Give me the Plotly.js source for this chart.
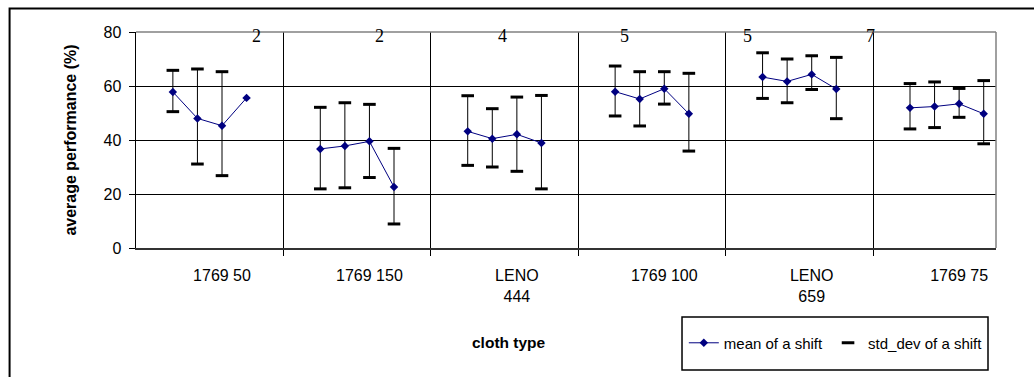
<!DOCTYPE html>
<html>
<head>
<meta charset="utf-8">
<script src="https://cdn.plot.ly/plotly-3.0.1.min.js"></script>
<style>html,body{margin:0;padding:0;background:#fff;}#chart{width:1034px;height:377px;}</style>
</head>
<body>
<div id="chart"></div>
<script>
// ---- data ----
const tickLabels = ['1769 50', '1769 150', 'LENO<br>444', '1769 100', 'LENO<br>659', '1769 75'];
const shiftsPerCloth = 4;
const meanVals = [57.8, 48.0, 45.3, 55.6,
                  36.7, 37.8, 39.5, 22.6,
                  43.2, 40.5, 42.1, 38.9,
                  57.9, 55.2, 59.0, 49.7,
                  63.3, 61.7, 64.3, 58.9,
                  51.9, 52.4, 53.4, 49.7];
const stdHigh = [65.8, 66.3, 65.3, null,
                 52.1, 53.8, 53.2, 36.9,
                 56.4, 51.6, 55.9, 56.5,
                 67.4, 65.3, 65.3, 64.7,
                 72.3, 70.0, 71.2, 70.6,
                 60.9, 61.5, 59.1, 62.0];
const stdLow = [50.5, 31.1, 26.8, null,
                21.9, 22.3, 26.1, 8.9,
                30.6, 30.0, 28.4, 21.9,
                48.9, 45.2, 53.3, 35.9,
                55.4, 53.8, 58.7, 47.9,
                44.1, 44.6, 48.4, 38.6];
const topLabels = ['2', '2', '4', '5', '5', '7'];
const yTicks = [0, 20, 40, 60, 80];

// ---- build traces ----
const slotsPerGroup = 6;
const xs = [], ys = [], eUp = [], eDn = [];
const capX = [], capY = [];
meanVals.forEach((m, i) => {
  const g = Math.floor(i / shiftsPerCloth), s = i % shiftsPerCloth;
  const x = g * slotsPerGroup + 1 + s;
  xs.push(x); ys.push(m);
  const hi = stdHigh[i], lo = stdLow[i];
  eUp.push(hi == null ? null : hi - m);
  eDn.push(lo == null ? null : m - lo);
  if (hi != null) { capX.push(x); capY.push(hi); }
  if (lo != null) { capX.push(x); capY.push(lo); }
  if (s === shiftsPerCloth - 1) { xs.push(null); ys.push(null); eUp.push(null); eDn.push(null); }
});
const labelPos = tickLabels.map((_, g) => g * slotsPerGroup + 3);
const sepPos = tickLabels.slice(1).map((_, g) => g * slotsPerGroup + 5.5);
const topPos = topLabels.map((_, g) => (g + 1) * 5 - 0.6);

const navy = '#000080';
const traces = [
  {
    x: xs, y: ys, name: 'mean of a shift', type: 'scatter', mode: 'lines+markers',
    connectgaps: false,
    line: {color: navy, width: 1},
    marker: {symbol: 'diamond', size: 6.5, color: navy, line: {width: 0}},
    error_y: {type: 'data', symmetric: false, array: eUp, arrayminus: eDn,
              color: '#000', thickness: 1, width: 0},
    hoverinfo: 'skip'
  },
  {
    x: capX, y: capY, name: 'std_dev of a shift', type: 'scatter', mode: 'markers',
    marker: {symbol: 'line-ew', size: 9, color: '#000', line: {color: '#000', width: 3}},
    hoverinfo: 'skip'
  }
];

const font = 'Liberation Sans, Arial, sans-serif';
const annotations = topLabels.map((t, g) => ({
  x: topPos[g], y: 78.4, xref: 'x', yref: 'y', text: t, showarrow: false,
  xanchor: 'center', yanchor: 'middle',
  font: {family: 'Liberation Serif, Times New Roman, serif', size: 18, color: '#000'}
}));
annotations.push({
  x: 0.4343, y: -0.438, xref: 'paper', yref: 'paper', text: 'cloth type', showarrow: false,
  xanchor: 'center', yanchor: 'middle',
  font: {family: font, size: 15.5, color: '#000', weight: 'bold'}
});

const layout = {
  width: 1034, height: 377,
  margin: {l: 136, r: 38, t: 32, b: 129, pad: 0},
  paper_bgcolor: '#fff', plot_bgcolor: '#fff',
  font: {family: font, size: 16, color: '#000'},
  showlegend: true,
  legend: {orientation: 'h', x: 0.637, xanchor: 'left', y: -0.44, yanchor: 'middle',
           font: {family: font, size: 15, color: '#000'}, bgcolor: 'rgba(0,0,0,0)', borderwidth: 0,
           traceorder: 'normal'},
  xaxis: {
    range: [-0.5, 34.5], tickmode: 'array', tickvals: labelPos, ticktext: tickLabels,
    ticks: '', showgrid: false, zeroline: false, showline: true, linecolor: '#333', linewidth: 2,
    ticklabelstandoff: 12, tickfont: {size: 16},
    minor: {tickmode: 'array', tickvals: sepPos, ticks: 'outside', ticklen: 6, tickcolor: '#000',
            tickwidth: 1, showgrid: true, gridcolor: '#000', gridwidth: 1},
    fixedrange: true
  },
  yaxis: {
    range: [0, 80], tickmode: 'array', tickvals: yTicks, ticks: 'outside', ticklen: 6,
    tickcolor: '#000', tickwidth: 1, showgrid: true, gridcolor: '#000', gridwidth: 1,
    zeroline: false, showline: true, linecolor: '#000', linewidth: 1.5,
    ticklabelstandoff: 4, tickfont: {size: 16},
    title: {text: 'average performance (%)', font: {family: font, size: 16, weight: 'bold'}, standoff: 23},
    fixedrange: true
  },
  annotations: annotations,
  shapes: [
    {type: 'line', xref: 'paper', yref: 'paper', x0: 0, x1: 1, y0: 1, y1: 1, line: {color: '#808080', width: 1.5}, layer: 'above'},
    {type: 'line', xref: 'paper', yref: 'paper', x0: 1, x1: 1, y0: 0, y1: 1, line: {color: '#808080', width: 1.5}, layer: 'above'},
    {type: 'rect', xref: 'paper', yref: 'paper', x0: 0.6349, x1: 0.9907, y0: -0.5648, y1: -0.3194, line: {color: '#000', width: 1.5}, fillcolor: 'rgba(0,0,0,0)'},
    {type: 'rect', xref: 'paper', yref: 'paper', x0: -0.147, x1: 1.06, y0: -0.7, y1: 1.1088, line: {color: '#000', width: 2}, fillcolor: 'rgba(0,0,0,0)'}
  ]
};

Plotly.newPlot('chart', traces, layout, {displayModeBar: false, staticPlot: true});
</script>
</body>
</html>
